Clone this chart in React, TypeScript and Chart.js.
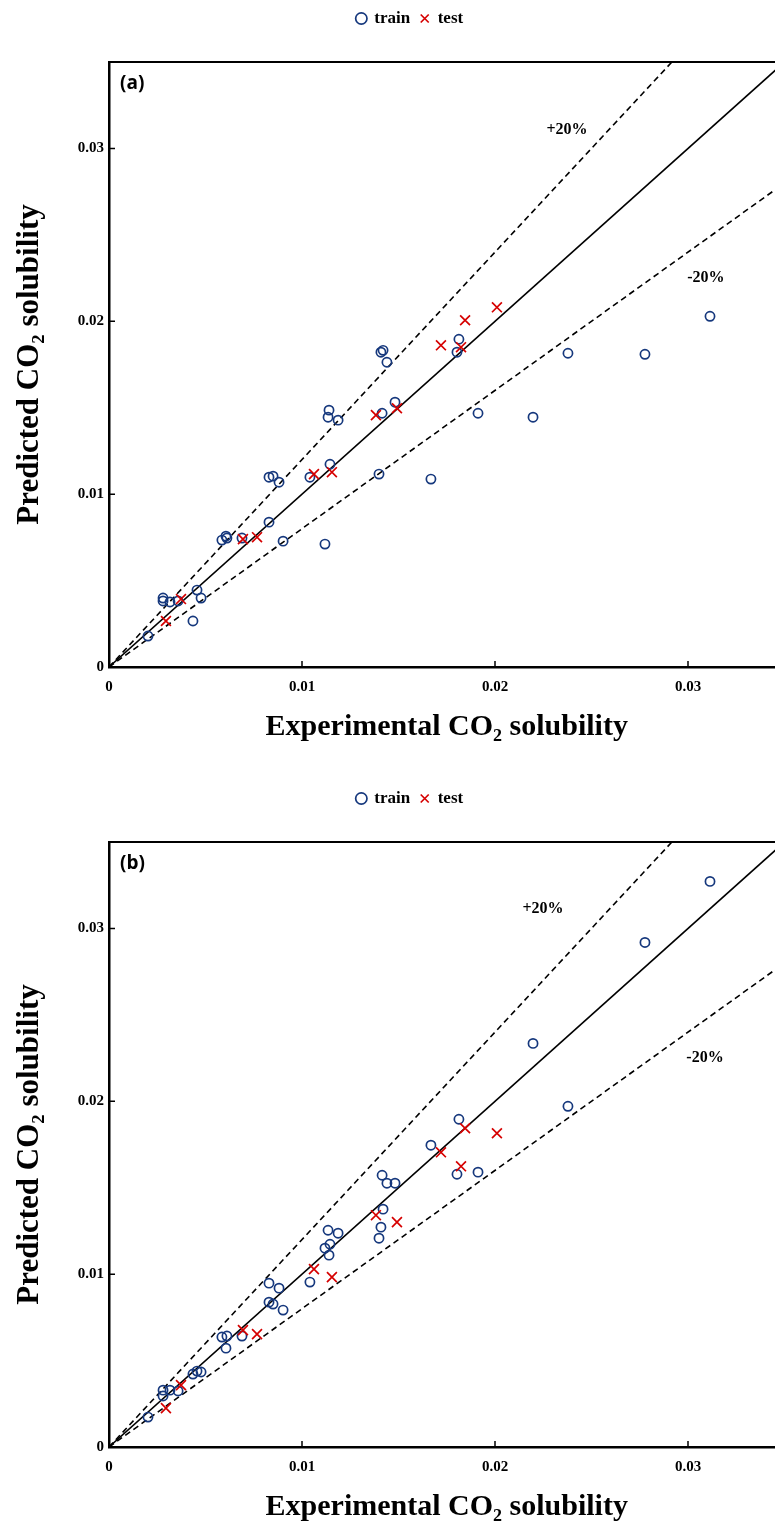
import React, { useEffect, useRef } from "react";
import { Chart, registerables } from "chart.js";

Chart.register(...registerables);

// ---- data ----
const trainExperimental = [
  0.00202, 0.0028, 0.0028, 0.00316, 0.00358, 0.00435, 0.00456, 0.00477, 0.00585, 0.00606,
  0.00611, 0.00689, 0.00829, 0.00829, 0.0085, 0.00881, 0.00902, 0.01041, 0.01119, 0.01135,
  0.0114, 0.01145, 0.01187, 0.01399, 0.01409, 0.01415, 0.0142, 0.0144, 0.01482, 0.01668,
  0.01803, 0.01813, 0.01912, 0.02197, 0.02378, 0.02777, 0.03114,
];
const trainPredictedA = [
  0.00179, 0.00399, 0.00382, 0.00376, 0.00382, 0.00266, 0.00445, 0.00399, 0.00734, 0.00757,
  0.00746, 0.00746, 0.00838, 0.01098, 0.01104, 0.01069, 0.00728, 0.01098, 0.00711, 0.01445,
  0.01486, 0.01173, 0.01428, 0.01116, 0.01821, 0.01468, 0.01832, 0.01763, 0.01532, 0.01087,
  0.01821, 0.01896, 0.01468, 0.01445, 0.01815, 0.01809, 0.02029,
];
const trainPredictedB = [
  0.00173, 0.00329, 0.00295, 0.00329, 0.00324, 0.00422, 0.00439, 0.00434, 0.00636, 0.00572,
  0.00642, 0.00642, 0.00948, 0.00838, 0.00827, 0.00919, 0.00792, 0.00954, 0.0115, 0.01254,
  0.0111, 0.01173, 0.01237, 0.01208, 0.01272, 0.01572, 0.01376, 0.01526, 0.01526, 0.01746,
  0.01578, 0.01896, 0.0159, 0.02335, 0.01971, 0.02919, 0.03272,
];
const testExperimental = [
  0.00295, 0.00373, 0.00694, 0.00767, 0.01062, 0.01155, 0.01383, 0.01492, 0.0172, 0.01824,
  0.01845, 0.0201,
];
const testPredictedA = [
  0.00266, 0.00393, 0.0074, 0.00751, 0.01116, 0.01127, 0.01457, 0.01497, 0.01861, 0.0185,
  0.02006, 0.02081,
];
const testPredictedB = [
  0.00225, 0.00358, 0.00676, 0.00653, 0.01029, 0.00983, 0.01341, 0.01301, 0.01705, 0.01624,
  0.01844, 0.01815,
];

const axisTicks = [0, 0.01, 0.02, 0.03];
const axisTickLabels = ["0", "0.01", "0.02", "0.03"];
const axisMax = 0.035;
const refLineX = [0, 0.035];
const refFactors = [1, 1.2, 0.8];

const notesA = [
  { text: "+20%", x: 0.02373, y: 0.0311 },
  { text: "-20%", x: 0.03093, y: 0.02254 },
];
const notesB = [
  { text: "+20%", x: 0.02249, y: 0.03116 },
  { text: "-20%", x: 0.03088, y: 0.02249 },
];

const SERIF = "'Liberation Serif', 'Times New Roman', serif";
const NAVY = "#16387d";
const RED = "#d60000";

function decorPlugin(tag: string, notes: { text: string; x: number; y: number }[]) {
  return {
    id: "panelDecor",
    afterDatasetsDraw(chart: any) {
      const { ctx, chartArea: a, scales } = chart;
      const x = scales.x;
      const y = scales.y;
      ctx.save();
      ctx.strokeStyle = "#000";
      ctx.lineWidth = 2;
      ctx.beginPath();
      ctx.moveTo(a.left, a.top);
      ctx.lineTo(a.right, a.top);
      ctx.stroke();
      ctx.lineWidth = 1.5;
      ctx.beginPath();
      axisTicks.forEach((v) => {
        if (v === 0) return;
        const px = x.getPixelForValue(v);
        ctx.moveTo(px, a.bottom);
        ctx.lineTo(px, a.bottom - 6);
        const py = y.getPixelForValue(v);
        ctx.moveTo(a.left, py);
        ctx.lineTo(a.left + 6, py);
      });
      ctx.stroke();
      ctx.fillStyle = "#000";
      ctx.textBaseline = "middle";
      ctx.textAlign = "left";
      ctx.font = "bold 19px 'Open Sans', 'Liberation Sans', sans-serif";
      ctx.fillText(tag, a.left + 11, a.top + 22);
      ctx.textAlign = "center";
      ctx.font = `bold 16px ${SERIF}`;
      notes.forEach((n) => {
        ctx.fillText(n.text, x.getPixelForValue(n.x), y.getPixelForValue(n.y));
      });
      ctx.restore();
    },
  };
}

function Panel(props: {
  tag: string;
  trainPred: number[];
  testPred: number[];
  notes: { text: string; x: number; y: number }[];
  top: number;
}) {
  const ref = useRef<HTMLCanvasElement>(null);
  useEffect(() => {
    const tickFont = { family: SERIF, weight: "bold" as const, size: 15 };
    const titleFont = { family: SERIF, weight: "bold" as const, size: 30 };
    const refDatasets = refFactors.map((k, i) => ({
      label: i === 0 ? "y = x" : k > 1 ? "+20%" : "-20%",
      data: refLineX.map((v) => ({ x: v, y: v * k })),
      showLine: true,
      pointRadius: 0,
      borderColor: "#000",
      backgroundColor: "#000",
      borderWidth: 1.6,
      borderDash: i === 0 ? [] : [6, 4],
      order: 2,
    }));
    const chart = new Chart(ref.current as HTMLCanvasElement, {
      type: "scatter",
      data: {
        datasets: [
          {
            label: "train",
            data: trainExperimental.map((v, i) => ({ x: v, y: props.trainPred[i] })),
            pointStyle: "circle",
            pointRadius: 4.6,
            borderWidth: 1.7,
            borderColor: NAVY,
            backgroundColor: "rgba(0,0,0,0)",
            order: 1,
          },
          {
            label: "test",
            data: testExperimental.map((v, i) => ({ x: v, y: props.testPred[i] })),
            pointStyle: "crossRot",
            pointRadius: 7,
            borderWidth: 1.7,
            borderColor: RED,
            backgroundColor: RED,
            order: 0,
          },
          ...refDatasets,
        ] as any,
      },
      options: {
        responsive: false,
        animation: false,
        events: [],
        layout: { padding: { top: 0, left: 0, right: 0, bottom: 13 } },
        plugins: {
          tooltip: { enabled: false },
          legend: {
            position: "top",
            align: "center",
            labels: {
              usePointStyle: true,
              boxWidth: 9,
              boxHeight: 8,
              padding: 10,
              color: "#000",
              font: { family: SERIF, weight: "bold", size: 17 },
              filter: (item: any) => item.datasetIndex < 2,
              sort: (a: any, b: any) => a.datasetIndex - b.datasetIndex,
            },
          },
        },
        scales: {
          x: {
            type: "linear",
            position: "bottom",
            min: 0,
            max: axisMax,
            afterBuildTicks: (s: any) => {
              s.ticks = axisTicks.map((v) => ({ value: v }));
            },
            afterFit: (s: any) => {
              s.height = 80;
            },
            ticks: {
              callback: (_v: any, i: number) => axisTickLabels[i],
              font: tickFont,
              color: "#000",
              padding: 11,
              maxRotation: 0,
              autoSkip: false,
            },
            grid: { display: false, drawTicks: false },
            border: { display: true, color: "#000", width: 2.5 },
            title: {
              display: true,
              text: "Experimental CO₂ solubility",
              font: titleFont,
              color: "#000",
              padding: { top: 0, bottom: 2 },
            },
          },
          y: {
            type: "linear",
            position: "left",
            min: 0,
            max: axisMax,
            afterBuildTicks: (s: any) => {
              s.ticks = axisTicks.map((v) => ({ value: v }));
            },
            afterFit: (s: any) => {
              s.width = 109;
            },
            ticks: {
              callback: (_v: any, i: number) => axisTickLabels[i],
              font: tickFont,
              color: "#000",
              padding: 5,
              autoSkip: false,
            },
            grid: { display: false, drawTicks: false },
            border: { display: true, color: "#000", width: 2.5 },
            title: {
              display: true,
              text: "Predicted CO₂ solubility",
              font: { family: SERIF, weight: "bold" as const, size: 31 },
              color: "#000",
              padding: { top: 11, bottom: 0 },
            },
          },
          xTop: {
            type: "linear",
            position: "top",
            display: true,
            ticks: { display: false },
            grid: { display: false, drawTicks: false },
            border: { display: false },
            afterFit: (s: any) => {
              s.height = 25;
            },
          },
          yRight: {
            type: "linear",
            position: "right",
            display: true,
            ticks: { display: false },
            grid: { display: false, drawTicks: false },
            border: { display: false },
            afterFit: (s: any) => {
              s.width = 35.5;
            },
          },
        } as any,
      },
      plugins: [decorPlugin(props.tag, props.notes)],
    });
    return () => chart.destroy();
  }, []);
  return (
    <canvas
      ref={ref}
      width={820}
      height={760}
      style={{ position: "absolute", left: 0, top: props.top, display: "block" }}
    />
  );
}

export default function App() {
  return (
    <div
      style={{
        position: "absolute",
        left: 0,
        top: 0,
        width: 775,
        height: 1524,
        overflow: "hidden",
        background: "#fff",
      }}
    >
      <Panel tag="(a)" trainPred={trainPredictedA} testPred={testPredictedA} notes={notesA} top={0} />
      <Panel tag="(b)" trainPred={trainPredictedB} testPred={testPredictedB} notes={notesB} top={780} />
    </div>
  );
}
